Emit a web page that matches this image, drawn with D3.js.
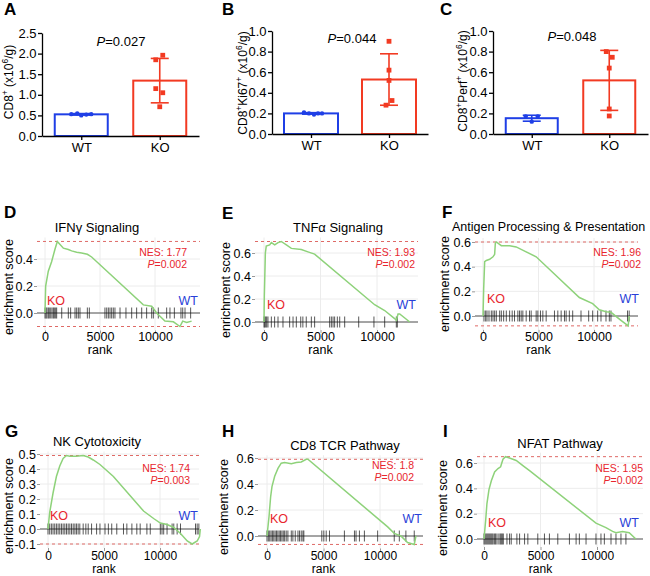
<!DOCTYPE html>
<html><head><meta charset="utf-8">
<script src="https://cdn.jsdelivr.net/npm/d3@7"></script>
<style>body{margin:0;background:#fff}svg{display:block;font-family:"Liberation Sans",Arial,Helvetica,sans-serif}</style>
</head><body><svg id="c" width="650" height="576"></svg>
<script>
// ---------------- DATA ----------------
const groups = ["WT", "KO"];
const wtA = [0.53, 0.55, 0.50, 0.52, 0.53];
const koA = [1.96, 1.85, 1.15, 1.05, 0.71];
const wtB = [0.21, 0.20, 0.19, 0.20, 0.20];
const koB = [0.90, 0.62, 0.52, 0.325, 0.28];
const wtC = [0.17, 0.17, 0.12];
const koC = [0.80, 0.745, 0.64, 0.243, 0.175];
const ticksA = [0, 0.5, 1.0, 1.5, 2.0, 2.5];
const ticksBC = [0, 0.2, 0.4, 0.6, 0.8, 1.0];
const pvalA = "0.027", pvalB = "0.044", pvalC = "0.048";

const rankTicks = [0, 5000, 10000];
const esD = [[0,0],[60,0.2],[300,0.31],[600,0.38],[900,0.47],[1120,0.53],[1670,0.48],[2120,0.47],[2420,0.46],[2880,0.45],[3330,0.445],[3850,0.435],[4240,0.415],[8940,0.06],[9700,0.05],[10150,0],[10900,-0.06],[11670,-0.065],[12270,-0.1],[12520,-0.06],[12880,-0.07],[13330,-0.06]];
const hitsD = [0,90,180,300,390,520,640,760,850,970,1060,1520,2120,2330,2730,2880,3030,3180,3850,4030,5450,5610,5760,5910,6060,6210,6360,6820,7360,7880,8330,8790,9240,9700,9850,10300,11060,11360,11760,12360,12520,12730,13240];
const esE = [[0,0],[30,0.23],[60,0.35],[120,0.6],[200,0.66],[500,0.67],[650,0.69],[950,0.67],[1240,0.69],[1530,0.70],[1980,0.67],[2420,0.64],[3300,0.63],[3890,0.61],[4480,0.59],[9790,0.15],[10680,0.10],[11560,0.03],[11710,0.015],[11860,0.07],[12010,0.07],[12900,0]];
const hitsE = [0,60,150,240,350,650,940,1240,1680,2270,2570,2860,3250,3440,3740,4190,4480,5810,5960,6110,6250,6490,6700,7140,8380,9730,10680,11710,11800];
const esF = [[0,0],[60,0.22],[150,0.44],[300,0.45],[600,0.46],[900,0.48],[1050,0.5],[1110,0.59],[1200,0.6],[1650,0.57],[2400,0.57],[2990,0.56],[3890,0.52],[4790,0.48],[8680,0.15],[9880,0.1],[10480,0.05],[11080,0.035],[11530,0.03],[12430,-0.035],[13080,-0.08],[13170,0]];
const hitsF = [90,240,360,540,750,900,1050,1200,1500,1650,1860,2100,2400,2630,2840,3140,3290,3440,3590,3890,4190,4340,4790,4940,5180,5390,5690,6440,6740,7040,7340,7490,7780,8080,8830,9520,9880,10330,10630,11080,11380,11530,13020,13170];
const esG = [[0,0],[150,0.11],[450,0.24],[750,0.35],[1050,0.42],[1350,0.47],[1650,0.49],[1950,0.485],[2540,0.485],[3140,0.49],[3590,0.48],[4040,0.46],[4640,0.43],[5240,0.39],[5840,0.35],[8530,0.12],[9430,0.07],[10030,0.04],[10630,0.03],[11230,0.01],[11830,-0.03],[12430,-0.08],[12870,-0.1],[13320,-0.08],[13530,-0.05],[13600,0]];
const hitsG = [0,150,300,450,600,750,900,1050,1200,1350,1500,1650,1800,1950,2100,2250,2400,2540,2690,2840,3140,3380,3590,3890,4340,4640,5090,5390,5690,6140,6740,7040,7490,7930,8230,8830,9130,10030,10180,10330,10630,11080,11230,11530,11830,13170,13320,13470];
const esH = [[0,0],[180,0.15],[320,0.3],[440,0.38],[680,0.46],[970,0.52],[1260,0.56],[1560,0.565],[2150,0.556],[2590,0.565],[3030,0.57],[3470,0.59],[3620,0.59],[10680,0.07],[11260,0.02],[11850,0],[12440,-0.05],[13030,-0.065],[13180,0]];
const hitsH = [0,120,240,360,480,600,720,840,960,1080,1200,1320,1440,1560,1700,1850,2150,2290,2500,2740,2880,3030,3180,3260,4850,5030,5240,5530,6850,7740,7880,8180,8620,9790,11260,11710,12290,13030];
const esI = [[0,0],[150,0.15],[260,0.28],[440,0.39],[650,0.46],[940,0.53],[1240,0.556],[1470,0.57],[1680,0.63],[1910,0.65],[2260,0.64],[2850,0.62],[3440,0.58],[4030,0.54],[9910,0.125],[10790,0.09],[11380,0.06],[11680,0.05],[12260,0.06],[12850,0.05],[13440,0]];
const hitsI = [0,90,180,270,360,450,540,630,720,810,940,1030,1150,1320,1440,1530,1620,1710,2030,2260,2410,2910,3150,3590,3880,4760,5350,5790,6530,7560,8150,8440,9030,9910,10350,10650,11240,11680,12120,12560];

const gseaTitles = { D: "IFNγ Signaling", E: "TNFα Signaling", F: "Antigen Processing & Presentation", G: "NK Cytotoxicity", H: "CD8 TCR Pathway", I: "NFAT Pathway" };
const nesVals = { D: "1.77", E: "1.93", F: "1.96", G: "1.74", H: "1.8", I: "1.95" };
const gseaP = { D: "0.002", E: "0.002", F: "0.002", G: "0.003", H: "0.002", I: "0.002" };
const esTicks = { D: [0, 0.2, 0.4], E: [0, 0.2, 0.4, 0.6], F: [0, 0.2, 0.4, 0.6], G: [-0.1, 0, 0.1, 0.2, 0.3, 0.4, 0.5], H: [0, 0.2, 0.4, 0.6], I: [0, 0.2, 0.4, 0.6] };

// ---------------- STYLE / LAYOUT ----------------
const BLUE = "#1f3fe6", RED = "#f23a22", TXTRED = "#e8262e", TXTBLUE = "#2a3fd8";
const GREEN = "#8ed27a", DASH = "#df6a66";
const svg = d3.select("#c");

function letter(t, x, y) {
  svg.append("text").attr("x", x).attr("y", y).attr("font-size", 17).attr("font-weight", "bold").text(t);
}
function fmt(d) { return d3.format(".1f")(d).replace("−", "-"); }

// ---------------- BAR PANELS ----------------
function barPanel(o) {
  const g = svg.append("g");
  const x = d3.scalePoint().domain(groups).range([o.axX, o.axEnd]).padding(0.5);
  const y = d3.scaleLinear().domain([0, o.max]).range([o.yBot, o.yTop]);
  const sets = [o.wt, o.ko], cols = [BLUE, RED], jit = [o.jWT, o.jKO];
  groups.forEach((k, i) => {
    const vals = sets[i], m = d3.mean(vals), sd = d3.deviation(vals), cx = x(k);
    g.append("rect").attr("x", cx - o.bw / 2).attr("y", y(m)).attr("width", o.bw)
      .attr("height", y(0) - y(m)).attr("fill", "#fff").attr("stroke", cols[i]).attr("stroke-width", 2);
    g.append("line").attr("x1", cx).attr("x2", cx).attr("y1", y(m - sd)).attr("y2", y(m + sd))
      .attr("stroke", cols[i]).attr("stroke-width", 1.6);
    [m - sd, m + sd].forEach(v => g.append("line").attr("x1", cx - o.cap).attr("x2", cx + o.cap)
      .attr("y1", y(v)).attr("y2", y(v)).attr("stroke", cols[i]).attr("stroke-width", 1.6));
    vals.forEach((v, j) => {
      if (i === 0) g.append("circle").attr("cx", cx + jit[i][j]).attr("cy", y(v)).attr("r", 2.2).attr("fill", cols[i]);
      else g.append("rect").attr("x", cx + jit[i][j] - 2.4).attr("y", y(v) - 2.4).attr("width", 4.8).attr("height", 4.8).attr("fill", cols[i]);
    });
  });
  const ya = g.append("g").attr("transform", `translate(${o.axX},0)`)
    .call(d3.axisLeft(y).tickValues(o.ticks).tickFormat(fmt).tickSize(4).tickPadding(1.5).tickSizeOuter(0));
  const xa = g.append("g").attr("transform", `translate(0,${o.yBot})`)
    .call(d3.axisBottom(x).tickSize(4).tickSizeOuter(0));
  [ya, xa].forEach(a => {
    a.attr("font-family", null).attr("font-size", 13);
    a.selectAll("path,line").attr("stroke", "#000").attr("stroke-width", 1.3);
    a.selectAll("text").attr("fill", "#000");
  });
  const t = g.append("text").attr("transform", `translate(${o.labX},${o.labY}) rotate(-90)`)
    .attr("text-anchor", "middle").attr("font-size", 12);
  o.label.forEach(p => {
    const ts = t.append("tspan").text(p[0]);
    if (p[1] === "sup") ts.attr("font-size", 8.5).attr("dy", -5);
    if (p[1] === "after") ts.attr("dy", 5);
  });
  const pt = g.append("text").attr("x", o.pX).attr("y", o.pY).attr("text-anchor", "middle").attr("font-size", 13);
  pt.append("tspan").attr("font-style", "italic").text("P");
  pt.append("tspan").text("=" + o.p);
}

barPanel({ wt: wtA, ko: koA, ticks: ticksA, max: 2.5, axX: 42, axEnd: 199, yTop: 33, yBot: 136, bw: 53, cap: 9,
  jWT: [-10, -4, 0, 5, 10], jKO: [3, -4, -4, 3, 0], labX: 13, labY: 82, pX: 121, pY: 46, p: pvalA,
  label: [["CD8"], ["+", "sup"], [" (x10", "after"], ["6", "sup"], ["/g)", "after"]] });
barPanel({ wt: wtB, ko: koB, ticks: ticksBC, max: 1.0, axX: 272, axEnd: 428, yTop: 31, yBot: 134, bw: 54, cap: 9,
  jWT: [-7, -2, 3, 7, 11], jKO: [0, 0, 0, 3, -3], labX: 246.5, labY: 83, pX: 352, pY: 43, p: pvalB,
  label: [["CD8"], ["+", "sup"], ["Ki67", "after"], ["+", "sup"], [" (x10", "after"], ["6", "sup"], ["/g)", "after"]] });
barPanel({ wt: wtC, ko: koC, ticks: ticksBC, max: 1.0, axX: 493, axEnd: 648, yTop: 31, yBot: 134, bw: 52, cap: 9,
  jWT: [-6, 6, 0], jKO: [-3, 3, 0, 0, 0], labX: 466.5, labY: 81, pX: 572, pY: 41, p: pvalC,
  label: [["CD8"], ["+", "sup"], ["Perf", "after"], ["+", "sup"], [" (x10", "after"], ["6", "sup"], ["/g)", "after"]] });

letter("A", 4, 15); letter("B", 222, 15); letter("C", 440, 15);

// ---------------- GSEA PANELS ----------------
const gLay = {
  D: { x0: 45, x1: 155, left: 37, right: 200, y0: 313, yr: 0.4, yrPx: 259, title: [97, 232, "middle", 13], nes: [187, 256, 268], ko: [47, 305], wt: [198, 305], xlab: 341, rank: 354, fs: 12.5, ylab: [8, 287], letter: [4, 218] },
  E: { x0: 264, x1: 377, left: 255, right: 418, y0: 322, yr: 0.6, yrPx: 253, title: [338, 232, "middle", 13], nes: [415, 256, 268], ko: [267, 309], wt: [416, 309], xlab: 341, rank: 354, fs: 12.5, ylab: [225, 290], letter: [222, 219] },
  F: { x0: 483, x1: 594, left: 475, right: 638, y0: 316, yr: 0.6, yrPx: 242, title: [452, 231, "start", 12.5], nes: [641, 256, 268], ko: [487, 303], wt: [639, 303], xlab: 341, rank: 354, fs: 12.5, ylab: [444, 284], letter: [442, 218] },
  G: { x0: 48, x1: 160, left: 40, right: 199, y0: 529, yr: 0.5, yrPx: 454, title: [97, 446, "middle", 13], nes: [190, 472, 484], ko: [50, 520], wt: [198, 520], xlab: 560, rank: 573, fs: 12, ylab: [8, 506], letter: [5, 437] },
  H: { x0: 267, x1: 380, left: 258, right: 423, y0: 536, yr: 0.6, yrPx: 458, title: [345, 450, "middle", 13], nes: [414, 469, 481], ko: [270, 523], wt: [422, 523], xlab: 560, rank: 573, fs: 12, ylab: [223, 507], letter: [222, 437] },
  I: { x0: 484, x1: 597, left: 477, right: 643, y0: 539, yr: 0.6, yrPx: 463, title: [560, 448, "middle", 13], nes: [643, 472, 484], ko: [488, 527], wt: [639, 527], xlab: 560, rank: 573, fs: 12, ylab: [442, 508], letter: [443, 437] }
};
const esData = { D: esD, E: esE, F: esF, G: esG, H: esH, I: esI };
const hitData = { D: hitsD, E: hitsE, F: hitsF, G: hitsG, H: hitsH, I: hitsI };

Object.keys(gLay).forEach(key => {
  const L = gLay[key], es = esData[key], hits = hitData[key];
  const g = svg.append("g");
  const x = d3.scaleLinear().domain([0, 10000]).range([L.x0, L.x1]);
  const y = d3.scaleLinear().domain([0, L.yr]).range([L.y0, L.yrPx]);
  const maxES = d3.max(es, d => d[1]), minES = d3.min(es, d => d[1]);
  const top = y(maxES) - 4;
  const hasBottom = minES < -0.02;
  const bottom = hasBottom ? y(minES) + 4 : L.y0 + 8;
  rankTicks.forEach(r => g.append("line").attr("x1", x(r)).attr("x2", x(r)).attr("y1", top).attr("y2", bottom)
    .attr("stroke", "#ececec").attr("stroke-width", 1));
  esTicks[key].forEach(v => g.append("line").attr("x1", L.left).attr("x2", L.right).attr("y1", y(v)).attr("y2", y(v))
    .attr("stroke", "#ececec").attr("stroke-width", 1));
  g.append("line").attr("x1", L.left).attr("x2", L.right).attr("y1", y(0)).attr("y2", y(0)).attr("stroke", "#555").attr("stroke-width", 1.1);
  g.selectAll(".hit").data(hits).join("line").attr("x1", d => x(d)).attr("x2", d => x(d))
    .attr("y1", y(0) - 5.5).attr("y2", y(0) + 5.5).attr("stroke", "#111").attr("stroke-opacity", 0.7).attr("stroke-width", 1);
  const dl = [maxES]; if (hasBottom) dl.push(minES);
  dl.forEach(v => g.append("line").attr("x1", L.left).attr("x2", L.right).attr("y1", y(v)).attr("y2", y(v))
    .attr("stroke", DASH).attr("stroke-width", 1).attr("stroke-dasharray", "3,3"));
  g.append("path").datum(es).attr("d", d3.line().x(d => x(d[0])).y(d => y(d[1])))
    .attr("fill", "none").attr("stroke", GREEN).attr("stroke-width", 1.5);
  const ya = g.append("g").attr("transform", `translate(${L.left},0)`)
    .call(d3.axisLeft(y).tickValues(esTicks[key]).tickFormat(fmt).tickSize(3).tickPadding(1));
  const xa = g.append("g").attr("transform", `translate(0,${bottom})`)
    .call(d3.axisBottom(x).tickValues(rankTicks).tickFormat(d3.format("d")).tickSize(3).tickPadding(L.xlab - bottom - 3 - 0.71 * L.fs));
  ya.attr("font-family", null).attr("font-size", 12.5);
  xa.attr("font-family", null).attr("font-size", L.fs);
  [ya, xa].forEach(a => {
    a.select(".domain").remove();
    a.selectAll("line").attr("stroke", "#999");
    a.selectAll("text").attr("fill", "#000");
  });
  g.append("text").attr("x", x(5000)).attr("y", L.rank).attr("text-anchor", "middle").attr("font-size", L.fs).text("rank");
  g.append("text").attr("transform", `translate(${L.ylab[0] + 4.5},${L.ylab[1]}) rotate(-90)`).attr("text-anchor", "middle")
    .attr("font-size", 12.5).text("enrichment score");
  g.append("text").attr("x", L.title[0]).attr("y", L.title[1]).attr("text-anchor", L.title[2]).attr("font-size", L.title[3]).text(gseaTitles[key]);
  g.append("text").attr("x", L.nes[0]).attr("y", L.nes[1]).attr("text-anchor", "end").attr("font-size", 10.5).attr("fill", TXTRED).text("NES: " + nesVals[key]);
  const pt = g.append("text").attr("x", L.nes[0]).attr("y", L.nes[2]).attr("text-anchor", "end").attr("font-size", 10.5).attr("fill", TXTRED);
  pt.append("tspan").attr("font-style", "italic").text("P");
  pt.append("tspan").text("=" + gseaP[key]);
  g.append("text").attr("x", L.ko[0]).attr("y", L.ko[1]).attr("font-size", 12.5).attr("fill", TXTRED).text("KO");
  g.append("text").attr("x", L.wt[0]).attr("y", L.wt[1]).attr("text-anchor", "end").attr("font-size", 12.5).attr("fill", TXTBLUE).text("WT");
  letter(key, L.letter[0], L.letter[1]);
});
</script></body></html>
